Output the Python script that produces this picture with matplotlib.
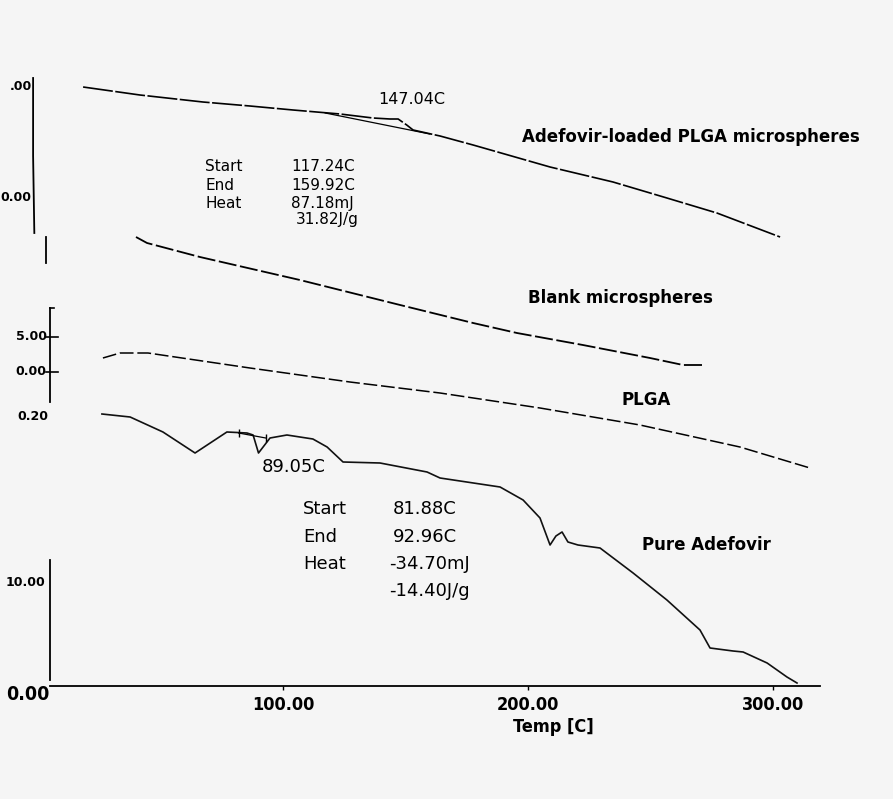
"""DSC thermograms: Adefovir-loaded PLGA microspheres, blank microspheres, PLGA, pure Adefovir."""
import numpy as np
import matplotlib
matplotlib.use('Agg')
import matplotlib.pyplot as plt

plt.rcParams['font.family'] = ['DejaVu Sans']
# condensed bold for the instrument's axis print
COND = dict(family='DejaVu Sans', fontstretch='condensed', fontweight='bold')

# --- curves (T in C, signal in arbitrary stacked units) ---
T_loaded = [18.4, 41.6, 67.3, 86.5, 104.1, 123.3, 136.7, 143.7, 147.0, 150.5, 153.1, 164.1, 177.6,
            209.0, 234.7, 256.7, 277.1, 302.9]
y_loaded = [59.9, 59.1, 58.4, 58.0, 57.6, 57.2, 56.8, 56.7, 56.7, 56.1, 55.6, 55.0, 54.1,
            51.9, 50.4, 48.8, 47.3, 44.9]
T_loaded_base = [117.24, 159.92]
y_loaded_base = [57.3, 55.2]

T_blank = [40.0, 44.5, 66.1, 106.9, 147.8, 177.6, 195.5, 222.4, 249.8, 263.3, 272.2]
y_blank = [44.9, 44.3, 42.9, 40.6, 38.1, 36.3, 35.3, 34.1, 32.8, 32.1, 32.1]

T_plga = [26.5, 33.5, 44.9, 86.5, 127.3, 164.1, 204.9, 245.7, 286.5, 315.1]
y_plga = [32.8, 33.3, 33.3, 31.8, 30.4, 29.3, 27.8, 26.1, 23.9, 21.8]

T_pure = [26.1, 37.6, 51.0, 64.1, 77.1, 85.3, 87.8, 90.0, 94.7, 101.6, 112.2, 118.0, 124.5, 139.6,
          158.8, 164.1, 188.6, 198.0, 204.9, 209.0, 211.4, 213.9, 216.3, 220.4, 229.4, 242.9,
          256.7, 270.2, 274.3, 283.7, 287.8, 297.6, 305.7, 309.8]
y_pure = [27.2, 26.9, 25.4, 23.3, 25.4, 25.3, 25.1, 23.3, 24.8, 25.1, 24.7, 23.9, 22.4, 22.3,
          21.4, 20.8, 19.9, 18.6, 16.8, 14.1, 15.0, 15.4, 14.4, 14.1, 13.8, 11.3,
          8.6, 5.6, 3.8, 3.5, 3.4, 2.3, 0.9, 0.3]
T_pure_base = [81.88, 92.96]
y_pure_base = [25.3, 24.8]

x_ticks = [100, 200, 300]
x_ticklabels = ['100.00', '200.00', '300.00']

# curve names and where they sit
names = ['Adefovir-loaded PLGA microspheres', 'Blank microspheres', 'PLGA', 'Pure Adefovir']
name_T = [197.6, 200.0, 238.0, 246.5]
name_y = [54.9, 38.8, 28.6, 14.1]

# left-hand sub-axes of the original print-out (labels, y positions)
sub_labels = ['.00', '0.00', '5.00', '0.00', '0.20', '10.00']
sub_label_y = [59.9, 48.8, 34.9, 31.4, 26.9, 10.4]
sub_label_T = [-2.6, -2.6, 3.5, 3.5, 4.3, 3.0]

fig = plt.figure(figsize=(8.93, 7.99), dpi=100, facecolor='#f5f5f5')
ax = fig.add_axes([0, 0, 1, 1])
ax.set_facecolor('#f5f5f5')
ax.set_xlim(-15.51, 348.98)
ax.set_ylim(-11.3, 68.6)

ax.plot(T_loaded, y_loaded, color='k', lw=1.2, dashes=(18, 1.5))
ax.plot(T_loaded_base, y_loaded_base, color='k', lw=0.9)
ax.plot(T_blank, y_blank, color='k', lw=1.3, dashes=(10, 2))
ax.plot(T_plga, y_plga, color='k', lw=1.1, dashes=(9, 2.5))
ax.plot(T_pure, y_pure, color='#111', lw=1.2)
ax.plot(T_pure_base, y_pure_base, color='k', lw=0.9, marker='|', ms=6)

for nm, t, y in zip(names, name_T, name_y):
    ax.text(t, y, nm, fontsize=12, fontweight='bold', va='center', ha='left')

# peak / integration annotations
ax.text(138.8, 58.6, '147.04C', fontsize=11.5, va='center')
for lab, val, y in [('Start', '117.24C', 51.9), ('End', '159.92C', 50.0), ('Heat', '87.18mJ', 48.2)]:
    ax.text(68.2, y, lab, fontsize=11, va='center')
    ax.text(103.3, y, val, fontsize=11, va='center')
ax.text(105.3, 46.6, '31.82J/g', fontsize=11, va='center')

ax.text(91.4, 21.9, '89.05C', fontsize=13, va='center')
for lab, val, y in [('Start', '81.88C', 17.7), ('End', '92.96C', 14.9), ('Heat', '-34.70mJ', 12.2)]:
    ax.text(108.2, y, lab, fontsize=13, va='center')
    ax.text(144.9 if lab != 'Heat' else 143.3, y, val, fontsize=13, va='center')
ax.text(143.3, 9.5, '-14.40J/g', fontsize=13, va='center')

# left fragments of the instrument axes
ax.plot([-2.0, -2.0, -1.5], [60.8, 53.0, 45.3], color='k', lw=1.3)
ax.plot([3.3, 3.3], [44.9, 42.3], color='k', lw=1.3)
ax.plot([4.9, 4.9], [37.8, 28.4], color='k', lw=1.3)
ax.plot([4.9, 4.9], [12.6, 0.6], color='k', lw=1.3)
for y in [34.9, 31.4]:
    ax.plot([3.3, 8.2], [y, y], color='k', lw=1.2)
ax.plot([4.9, 6.5], [37.8, 37.8], color='k', lw=1.2)
for lab, t, y in zip(sub_labels, sub_label_T, sub_label_y):
    ax.text(t, y, lab, fontsize=9, fontweight='bold', ha='right', va='center')
ax.text(-4.1, -0.9, '0.00', fontsize=14, ha='center', va='center', **COND)

# temperature axis
for s in ['top', 'right', 'left']:
    ax.spines[s].set_visible(False)
ax.spines['bottom'].set_position(('data', 0))
ax.spines['bottom'].set_bounds(4.9, 319.2)
ax.spines['bottom'].set_linewidth(1.3)
ax.set_yticks([])
ax.set_xticks(x_ticks)
ax.set_xticklabels(x_ticklabels, fontsize=13, **COND)
ax.tick_params(axis='x', length=3, width=1, pad=4)
ax.text(210.2, -4.1, 'Temp [C]', fontsize=13, ha='center', va='center', **COND)

plt.savefig('out.png', dpi=100, facecolor=fig.get_facecolor())
